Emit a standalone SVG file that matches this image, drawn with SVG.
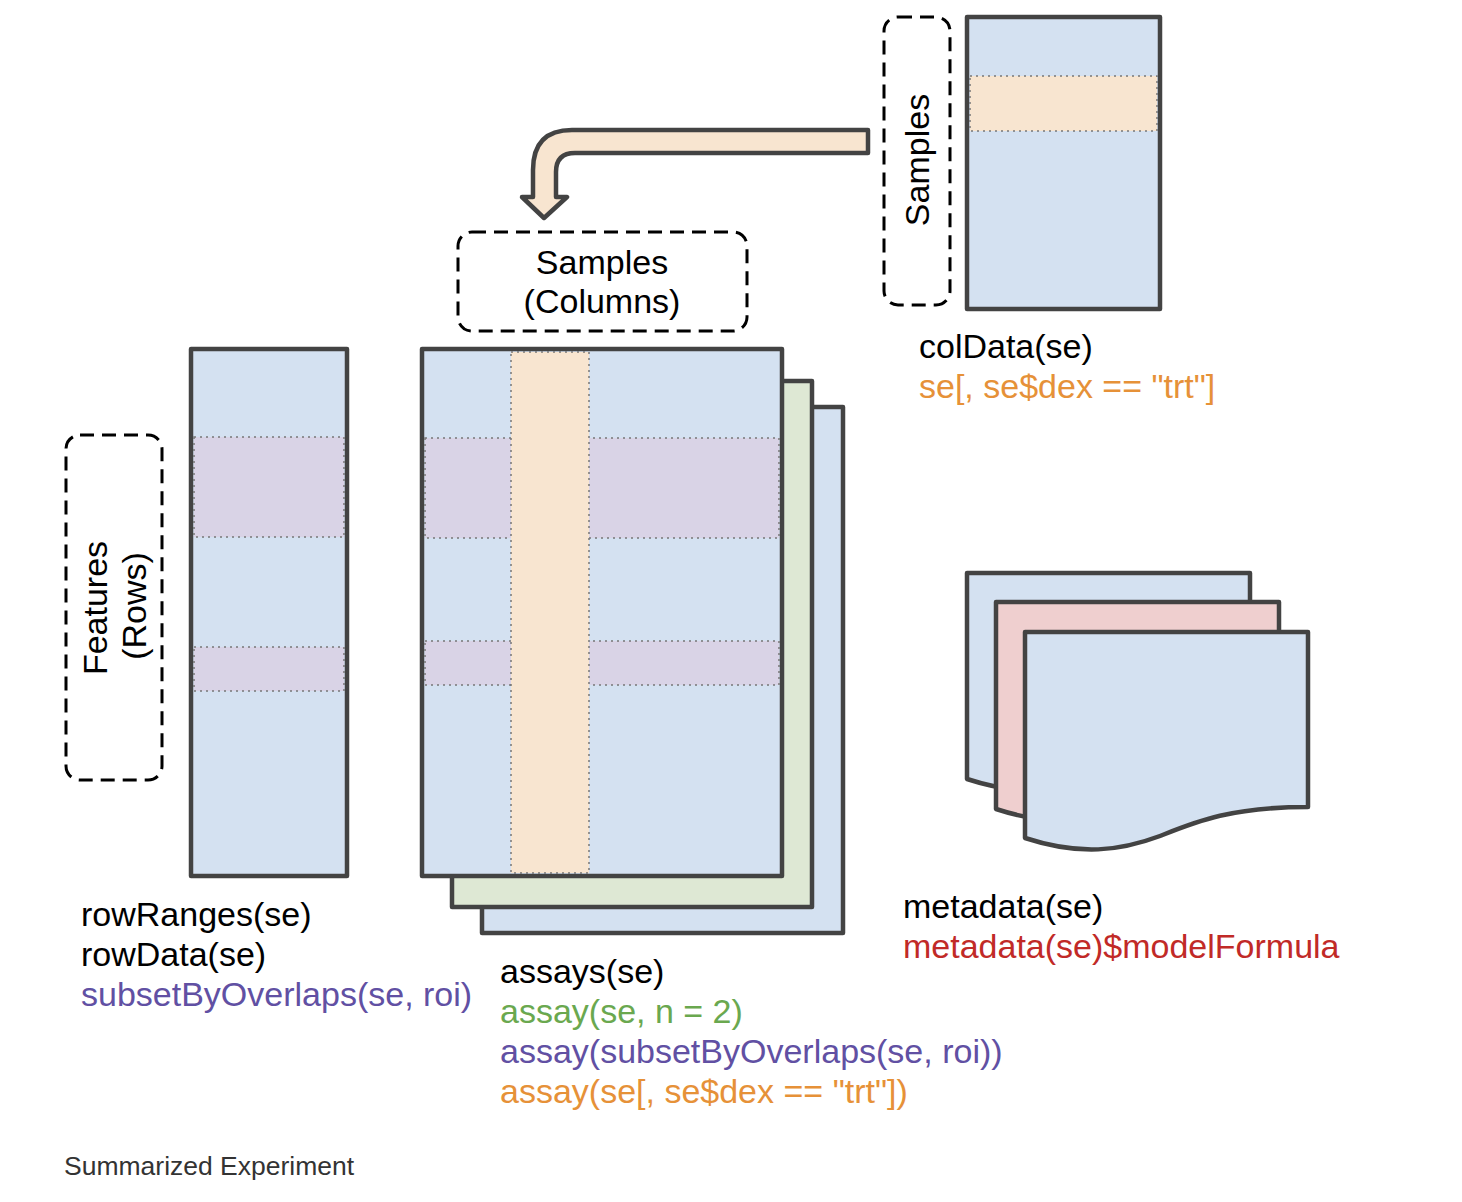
<svg xmlns="http://www.w3.org/2000/svg" width="1462" height="1202" viewBox="0 0 1462 1202">
<style>
.frame{stroke:#434343;stroke-width:4.5;stroke-linejoin:round}
.blue{fill:#d4e1f1}
.green{fill:#dee8d4}
.pink{fill:#efcfcf}
.orange{fill:#f8e5d0}
.purple{fill:#d9d3e6}
.dot{stroke:#777;stroke-width:1.5;stroke-dasharray:2 4;fill:none}
.dash{fill:none;stroke:#000;stroke-width:3;stroke-dasharray:14 8}
text{font-family:"Liberation Sans",Arial,Helvetica,sans-serif;font-size:34px;fill:#000}
.c-purple{fill:#6150a3}
.c-green{fill:#6aa84f}
.c-orange{fill:#e69138}
.c-red{fill:#c12a27}
.small{font-size:26.5px;fill:#333}
</style>
<g id="connectors">
<path class="frame orange" stroke-width="3" d="M868,130 L572,130 Q533,130 533,170 L533,197 L522,197 L544,218 L567,197 L556,197 L556,172 Q556,153 575,153 L868,153 Z"/>
</g>
<g id="rowdata">
<rect class="frame blue" x="191" y="349" width="156" height="527"/>
<rect class="purple" x="194" y="437" width="150" height="100"/>
<rect class="purple" x="194" y="647" width="150" height="44"/>
<rect class="dot" x="194" y="437" width="150" height="100"/>
<rect class="dot" x="194" y="647" width="150" height="44"/>
<text x="81" y="926">rowRanges(se)</text>
<text x="81" y="966">rowData(se)</text>
<text x="81" y="1006" class="c-purple">subsetByOverlaps(se, roi)</text>
</g>
<g id="features">
<rect class="dash" x="66" y="435" width="96" height="345" rx="14"/>
<text transform="translate(107,608) rotate(-90)" text-anchor="middle">Features</text>
<text transform="translate(146,606) rotate(-90)" text-anchor="middle">(Rows)</text>
</g>
<g id="samples-columns">
<rect class="dash" x="458" y="232" width="289" height="99" rx="14"/>
<text x="602" y="274" text-anchor="middle">Samples</text>
<text x="602" y="313" text-anchor="middle">(Columns)</text>
</g>
<g id="assays">
<rect class="frame blue" x="482" y="407" width="361" height="526"/>
<rect class="frame green" x="452" y="381" width="360" height="526"/>
<rect class="frame blue" x="422" y="349" width="360" height="527"/>
<rect class="purple" x="425" y="438" width="354" height="100"/>
<rect class="purple" x="425" y="641" width="354" height="44"/>
<rect class="dot" x="425" y="438" width="354" height="100"/>
<rect class="dot" x="425" y="641" width="354" height="44"/>
<rect class="orange" x="511" y="352" width="78" height="521"/>
<rect class="dot" x="511" y="352" width="78" height="521"/>
<text x="500" y="983">assays(se)</text>
<text x="500" y="1023" class="c-green">assay(se, n = 2)</text>
<text x="500" y="1063" class="c-purple">assay(subsetByOverlaps(se, roi))</text>
<text x="500" y="1103" class="c-orange">assay(se[, se$dex == "trt"])</text>
</g>
<g id="samples-label">
<rect class="dash" x="884" y="17" width="66" height="288" rx="14"/>
<text transform="translate(929,160) rotate(-90)" text-anchor="middle">Samples</text>
</g>
<g id="coldata">
<rect class="frame blue" x="967" y="17" width="193" height="292"/>
<rect class="orange" x="970" y="76" width="187" height="55"/>
<rect class="dot" x="970" y="76" width="187" height="55"/>
<text x="919" y="358">colData(se)</text>
<text x="919" y="398" class="c-orange">se[, se$dex == "trt"]</text>
</g>
<g id="metadata">
<path class="frame blue" d="M967,573 L1250,573 L1250,748 C1172,748 1137,763 1102,777 C1062,792 1022,797 967,779 Z"/>
<path class="frame pink" d="M996,602 L1279,602 L1279,778 C1201,778 1166,793 1131,807 C1091,822 1051,827 996,809 Z"/>
<path class="frame blue" d="M1025,632 L1308,632 L1308,807 C1230,807 1195,822 1160,836 C1120,851 1080,856 1025,838 Z"/>
<text x="903" y="918">metadata(se)</text>
<text x="903" y="958" class="c-red">metadata(se)$modelFormula</text>
</g>
<text x="64" y="1175" class="small">Summarized Experiment</text>
</svg>
